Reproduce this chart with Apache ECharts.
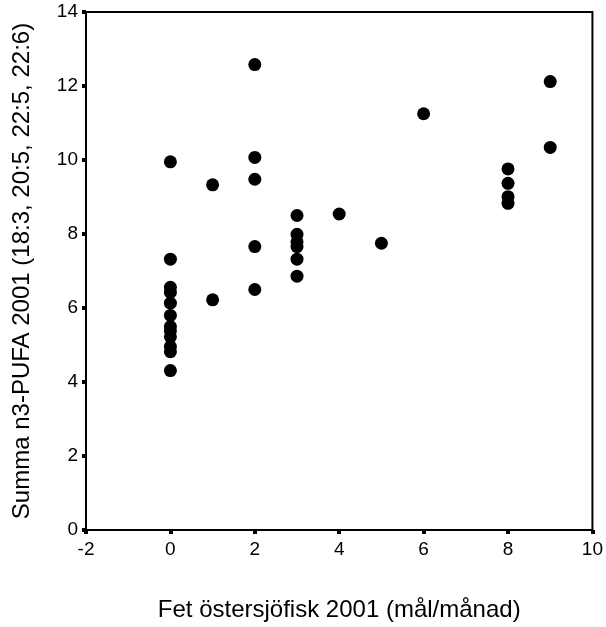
<!DOCTYPE html>
<html>
<head>
<meta charset="utf-8">
<script src="https://cdn.jsdelivr.net/npm/echarts@6/dist/echarts.min.js"></script>
<style>html,body{margin:0;padding:0;background:#fff}#c{width:606px;height:627px}</style>
</head>
<body>
<div id="c"></div>
<script>
const xValues = [0,0,0,0,0,0,0,0,0,0,0,0, 1,1, 2,2,2,2,2, 3,3,3,3,3,3, 4, 5, 6, 8,8,8,8, 9,9];
const yValues = [9.95,7.32,6.56,6.42,6.13,5.8,5.5,5.38,5.22,4.96,4.82,4.31, 9.33,6.22, 12.58,10.07,9.48,7.66,6.5, 8.5,7.99,7.79,7.66,7.32,6.86, 8.54, 7.75, 11.25, 9.76,9.37,9.01,8.83, 12.12,10.34];
const xTicks = [-2,0,2,4,6,8,10];
const yTicks = [0,2,4,6,8,10,12,14];
const xTitle = 'Fet östersjöfisk 2001 (mål/månad)';
const yTitle = 'Summa n3-PUFA 2001 (18:3, 20:5, 22:5, 22:6)';

const points = xValues.map((x, i) => [x, yValues[i]]);
const chart = echarts.init(document.getElementById('c'));
const font = 'Liberation Sans, Arial, sans-serif';
chart.setOption({
  animation: false,
  grid: {left: 86, right: 13, top: 12, bottom: 97, show: true, borderColor: '#000', borderWidth: 2, backgroundColor: 'transparent'},
  xAxis: {
    type: 'value', min: xTicks[0], max: xTicks[xTicks.length-1], interval: 2,
    name: xTitle, nameLocation: 'middle', nameGap: 68,
    nameTextStyle: {fontFamily: font, fontSize: 24, color: '#000'},
    axisLine: {onZero: false, lineStyle: {color: '#000', width: 2}},
    axisTick: {show: true, length: 4, lineStyle: {color: '#000', width: 4}},
    axisLabel: {fontFamily: font, fontSize: 19, color: '#000', margin: 10},
    splitLine: {show: false}
  },
  yAxis: {
    type: 'value', min: yTicks[0], max: yTicks[yTicks.length-1], interval: 2,
    name: yTitle, nameLocation: 'middle', nameGap: 52, nameRotate: 90,
    nameTextStyle: {fontFamily: font, fontSize: 24, color: '#000'},
    axisLine: {onZero: false, lineStyle: {color: '#000', width: 2}},
    axisTick: {show: true, length: 4, lineStyle: {color: '#000', width: 4}},
    axisLabel: {fontFamily: font, fontSize: 19, color: '#000', margin: 8},
    splitLine: {show: false}
  },
  series: [{
    type: 'scatter', data: points, symbol: 'circle', symbolSize: 13,
    itemStyle: {color: '#000', opacity: 1}
  }]
});
</script>
</body>
</html>
